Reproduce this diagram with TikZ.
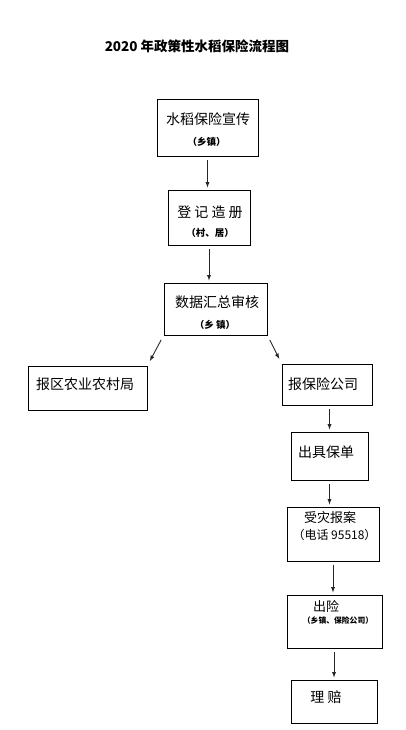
\documentclass[tikz,border=0pt]{standalone}
\usepackage{fontspec}
\setmainfont{Noto Sans CJK SC}
\usetikzlibrary{arrows}

\begin{document}
\begin{tikzpicture}[x=1pt, y=-1pt,
				>=latex,   %Pfeilspitzen
				kasten/.style={draw, line width=1pt, inner sep=0pt},
				haupt/.style={font=\fontsize{14}{16}\selectfont, inner sep=0pt},
				klein/.style={font=\bfseries\fontsize{9.5}{11}\selectfont, inner sep=0pt},
				pfeil/.style={->, line width=0.9pt, color=black!85, shorten <=3pt, shorten >=2pt}]
				%Bildbereich
				\useasboundingbox (0,0) rectangle (406,730);
				% Titel
				\node[font=\bfseries\fontsize{13.5}{16}\selectfont, inner sep=0pt] (titel) at (197,46) {2020 年政策性水稻保险流程图};
				% Kaesten
				\node[kasten, minimum width=101pt, minimum height=57pt] (b1) at (207.5,128.5) {};
				\node[kasten, minimum width=82pt, minimum height=55pt] (b2) at (209,217.5) {};
				\node[kasten, minimum width=103pt, minimum height=52pt] (b3) at (215.5,309) {};
				\node[kasten, minimum width=119pt, minimum height=44pt] (b4) at (87.5,388) {};
				\node[kasten, minimum width=90pt, minimum height=41pt] (b5) at (327,384.5) {};
				\node[kasten, minimum width=77pt, minimum height=48pt] (b6) at (329.5,456) {};
				\node[kasten, minimum width=92pt, minimum height=54pt] (b7) at (333,534) {};
				\node[kasten, minimum width=95pt, minimum height=53pt] (b8) at (334.5,621.5) {};
				\node[kasten, minimum width=86pt, minimum height=43pt] (b9) at (334,701.5) {};
				% Beschriftung
				\node[haupt] (t1) at (208,119) {水稻保险宣传};
				\node[klein] (s1) at (206.5,142) {（乡镇）};
				\node[haupt] (t2) at (210,212) {登 记 造 册};
				\node[klein] (s2) at (210,233) {（村、居）};
				\node[haupt] (t3) at (217,302) {数据汇总审核};
				\node[klein] (s3) at (215,325) {（乡 镇）};
				\node[haupt] (t4) at (85,384) {报区农业农村局};
				\node[haupt] (t5) at (323,384) {报保险公司};
				\node[haupt] (t6) at (326,452) {出具保单};
				\node[haupt, font=\fontsize{13}{15}\selectfont] (t7) at (330,518) {受灾报案};
				\node[haupt, font=\fontsize{12}{14}\selectfont] (s7) at (334.5,535) {（电话 95518）};
				\node[haupt, font=\fontsize{13}{15}\selectfont] (t8) at (326,606) {出险};
				\node[klein, font=\bfseries\fontsize{7.8}{9}\selectfont] (s8) at (338,621) {（乡镇、保险公司）};
				\node[haupt] (t9) at (326,697) {理 赔};
				% Pfeile
				\draw[pfeil] (b1.south) -- (b1.south |- b2.north);
				\draw[pfeil] (b2.south) -- (b2.south |- b3.north);
				\draw[pfeil, shorten <=5pt, shorten >=5pt] (b3.south west) -- (b4.north east);
				\draw[pfeil, shorten <=5pt, shorten >=5pt] (b3.south east) -- (b5.north west);
				\draw[pfeil] (b6.north |- b5.south) -- (b6.north);
				\draw[pfeil] (b6.south) -- (b6.south |- b7.north);
				\draw[pfeil] (b7.south) -- (b7.south |- b8.north);
				\draw[pfeil] (b9.north |- b8.south) -- (b9.north);
			\end{tikzpicture}
\end{document}
